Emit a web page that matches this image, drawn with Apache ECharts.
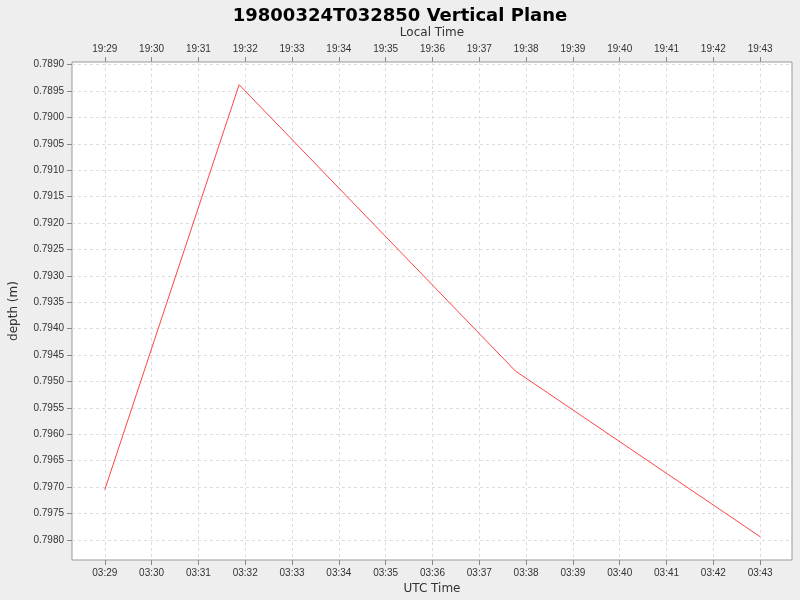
<!DOCTYPE html>
<html><head><meta charset="utf-8">
<script src="https://cdn.jsdelivr.net/npm/echarts@6/dist/echarts.min.js"></script>
<style>html,body{margin:0;background:#eeeeee}#c{width:800px;height:600px}</style>
</head><body><div id="c"></div>
<script>
// times in minutes after 03:00 UTC
const times = [29.0, 31.87, 37.77, 43.0];
const depths = [0.79705, 0.78938, 0.79480, 0.79794];
const minuteTicks = [29,30,31,32,33,34,35,36,37,38,39,40,41,42,43];
const depthTicks = [];
for (let i = 0; i <= 18; i++) depthTicks.push(+(0.7890 + i * 0.0005).toFixed(4));
const pad = n => String(n).padStart(2, '0');
const chart = echarts.init(document.getElementById('c'));
const grid = {show:true, backgroundColor:'#ffffff', borderColor:'#999', borderWidth:1, left:68, right:8, top:62, bottom:40};
const splitLine = {show:true, lineStyle:{color:'#dddddd', type:[3,3]}};
chart.setOption({
  backgroundColor:'#eeeeee',
  animation:false,
  title:{text:'19800324T032850 Vertical Plane', left:'center', top:2, textStyle:{fontSize:18, fontWeight:'bold', color:'#000', fontFamily:'DejaVu Sans'}},
  grid,
  xAxis:[
    {type:'value', position:'bottom', min:28.3, max:43.68, name:'UTC Time', nameLocation:'middle', nameGap:20,
     nameTextStyle:{fontSize:12, color:'#333', fontFamily:'DejaVu Sans'},
     axisLine:{show:false}, axisTick:{show:true, customValues:minuteTicks, lineStyle:{color:'#888'}},
     axisLabel:{customValues:minuteTicks, fontSize:10, color:'#333', formatter:v=>'03:'+pad(Math.round(v))},
     splitLine:Object.assign({}, splitLine, {customValues:minuteTicks})},
    {type:'value', position:'top', min:28.3, max:43.68, name:'Local Time', nameLocation:'middle', nameGap:22,
     nameTextStyle:{fontSize:12, color:'#333', fontFamily:'DejaVu Sans'},
     axisLine:{show:false}, axisTick:{show:true, customValues:minuteTicks, lineStyle:{color:'#888'}},
     axisLabel:{customValues:minuteTicks, fontSize:10, color:'#333', formatter:v=>'19:'+pad(Math.round(v))},
     splitLine:{show:false}}
  ],
  yAxis:{type:'value', inverse:true, min:0.78895, max:0.79838, name:'depth (m)', nameLocation:'middle', nameGap:52,
     nameTextStyle:{fontSize:12, color:'#333', fontFamily:'DejaVu Sans'},
     axisLine:{show:false}, axisTick:{show:true, customValues:depthTicks, lineStyle:{color:'#888'}},
     axisLabel:{customValues:depthTicks, fontSize:10, color:'#333', formatter:v=>v.toFixed(4)},
     splitLine:Object.assign({}, splitLine, {customValues:depthTicks})},
  series:[{type:'line', xAxisIndex:0, data:times.map((t,i)=>[t,depths[i]]), symbol:'none',
    lineStyle:{color:'#ff4444', width:1}}]
});
</script></body></html>
